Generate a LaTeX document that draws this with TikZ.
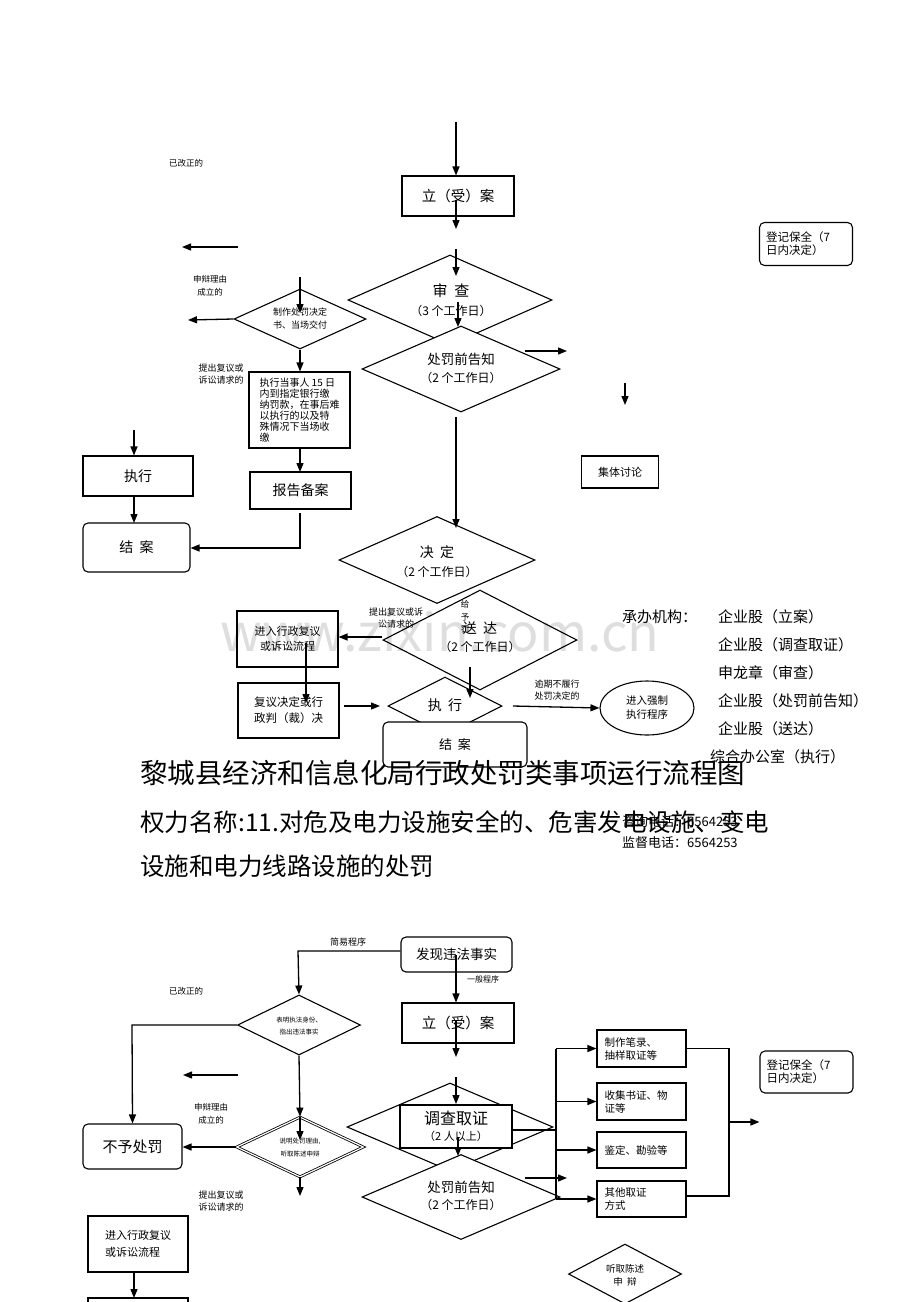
\documentclass[tikz,border=0pt]{standalone}
\usepackage{fontspec}
\setmainfont{Noto Sans CJK SC}
\usetikzlibrary{arrows.meta,shapes.geometric}
\newcommand\fz[2]{\fontsize{#1pt}{#2pt}\selectfont}
\begin{document}
\begin{tikzpicture}[x=1pt,y=-1pt,
  box/.style={draw,line width=1.1pt,fill=white,inner sep=0pt,align=center},
  rbox/.style={box,rounded corners=5pt},
  dia/.style={draw,diamond,line width=1.1pt,fill=white,inner sep=0pt},
  arr/.style={-{Triangle[length=9pt,width=7pt]},line width=1.3pt},
  ln/.style={line width=1.3pt},
  txt/.style={inner sep=0pt,align=center},
  ltxt/.style={inner sep=0pt,align=left,anchor=west}]
\useasboundingbox (0,0) rectangle (920,1302);
\clip (0,0) rectangle (920,1302);
\fill[white] (0,0) rectangle (920,1302);

% ================= TOP SECTION =================
\node[box,minimum width=112,minimum height=40,font=\fz{14.5}{17}] (la) at (458,196) {立（受）案};
\node[dia,minimum width=204,minimum height=90] (sc) at (450,300) {};
\node[dia,minimum width=198,minimum height=86] (cf) at (461,369) {};
\node[txt,font=\fz{15}{18}] (sct) at (451,291) {审\ \ 查};
\node[txt,font=\fz{12}{14}] (scd) at (451,311) {（3 个工作日）};
\node[txt,font=\fz{13.5}{16}] (cft) at (461,359) {处罚前告知};
\node[txt,font=\fz{12}{14}] (cfd) at (461,378) {（2 个工作日）};
\node[box,minimum width=77,minimum height=32,font=\fz{11}{13}] (jt) at (620,472) {集体讨论};
\node[rbox,minimum width=93,minimum height=43,font=\fz{11.5}{13},align=left,text width=80] (dj) at (806,244) {登记保全（7\\日内决定）};

\node[txt,font=\fz{8.5}{10}] (gz1) at (186,163) {已改正的};
\node[txt,font=\fz{8.5}{13}] (sb1) at (210,286) {申辩理由\\成立的};
\node[dia,minimum width=132,minimum height=60] (zz) at (300,319) {};
\node[txt,font=\fz{9}{13}] (zzt) at (300,319) {制作处罚决定\\书、当场交付};
\node[txt,font=\fz{9}{12}] (ty1) at (221,374) {提出复议或\\诉讼请求的};
\node[box,minimum width=101,minimum height=76,font=\fz{10}{11},align=left] (zx15) at (299.5,410) {执行当事人 15 日\\内到指定银行缴\\纳罚款，在事后难\\以执行的以及特\\殊情况下当场收\\缴};
\node[box,minimum width=101,minimum height=37,font=\fz{14}{16}] (bg) at (300.5,490.5) {报告备案};
\node[box,minimum width=110,minimum height=40,font=\fz{14}{16}] (zx1) at (138,476) {执行};
\node[rbox,minimum width=107,minimum height=49,font=\fz{14}{16}] (ja1) at (136.5,547.5) {结\ \ 案};

% ================= MIDDLE =================
\node[dia,minimum width=196,minimum height=87] (jd) at (437,560) {};
\node[dia,minimum width=194,minimum height=100] (sd) at (480,640) {};
\node[txt,font=\fz{14}{16}] (jdt) at (437,552) {决\ \ 定};
\node[txt,font=\fz{12}{14}] (jdd) at (437,572) {（2 个工作日）};
\node[txt,font=\fz{14}{16}] (sdt) at (480,628) {送\ \ 达};
\node[txt,font=\fz{12}{14}] (sdd) at (480,647) {（2 个工作日）};
\node[txt,font=\fz{8.5}{12.5}] (gy) at (465,617) {给\\予\\罚};
\node[txt,font=\fz{9}{12}] (ty2) at (396,618) {提出复议或诉\\讼请求的};
\node[box,minimum width=101,minimum height=56,font=\fz{11}{15}] (fy1) at (287.5,639) {进入行政复议\\或诉讼流程};
\node[box,minimum width=101,minimum height=55,font=\fz{11.5}{16},align=left] (fj) at (288.5,710.5) {复议决定或行\\政判（裁）决};
\node[dia,minimum width=114,minimum height=58] (zx2) at (445,706) {};
\node[txt,font=\fz{14}{16}] (zx2t) at (445,705) {执\ \ 行};
\node[rbox,minimum width=144,minimum height=45,font=\fz{13}{15}] (ja2) at (455,744.5) {结\ \ 案};
\node[draw,ellipse,line width=1.1pt,fill=white,inner sep=0pt,minimum width=94,minimum height=54,align=center,font=\fz{10.5}{14}] (qz) at (647,708) {进入强制\\执行程序};
\node[txt,font=\fz{9}{12}] (yq) at (557,690) {逾期不履行\\处罚决定的};

% right information
\node[ltxt,font=\fz{15}{18}] (cb) at (622,617) {承办机构：};
\node[ltxt,font=\fz{15}{18}] (cb1) at (718,617) {企业股（立案）};
\node[ltxt,font=\fz{15}{18}] (cb2) at (718,645) {企业股（调查取证）};
\node[ltxt,font=\fz{15}{18}] (cb3) at (718,673) {申龙章（审查）};
\node[ltxt,font=\fz{15}{18}] (cb4) at (718,701) {企业股（处罚前告知）};
\node[ltxt,font=\fz{15}{18}] (cb5) at (718,729) {企业股（送达）};
\node[ltxt,font=\fz{15}{18}] (cb6) at (710,757) {综合办公室（执行）};

% titles
\node[ltxt,font=\fz{27.5}{32}] (ti) at (140,773) {黎城县经济和信息化局行政处罚类事项运行流程图};
\node[ltxt,font=\fz{24.5}{28}] (qm1) at (140,822) {权力名称:11.对危及电力设施安全的、危害发电设施、变电};
\node[ltxt,font=\fz{24.5}{28}] (qm2) at (140,866) {设施和电力线路设施的处罚};
\node[ltxt,font=\fz{13}{15}] (tel1) at (622,822) {咨询电话：6564253};
\node[ltxt,font=\fz{13}{15}] (tel2) at (622,843) {监督电话：6564253};

% ================= BOTTOM SECTION =================
\node[rbox,minimum width=111,minimum height=35,font=\fz{13.5}{16}] (fx) at (456.5,954.5) {发现违法事实};
\node[txt,font=\fz{9}{11}] (jy) at (348,942) {简易程序};
\node[txt,font=\fz{8}{10}] (lbl2) at (483,979) {一般程序};
\node[box,minimum width=112,minimum height=40,font=\fz{14.5}{17}] (la2) at (458,1023) {立（受）案};
\node[txt,font=\fz{8.5}{10}] (gz2) at (186,991) {已改正的};
\node[dia,minimum width=123,minimum height=60] (bm) at (299,1025) {};
\node[txt,font=\fz{6.5}{12}] (bmt) at (299,1026) {表明执法身份、\\指出违法事实};
\node[txt,font=\fz{8.5}{13}] (sb2) at (211,1114) {申辩理由\\成立的};
\node[draw,diamond,fill=white,inner sep=0pt,double,double distance=1.2pt,line width=0.8pt,minimum width=127,minimum height=60] (sm) at (300,1147) {};
\node[txt,font=\fz{6.5}{13}] (smt) at (300,1148) {说明处罚理由,\\听取陈述申辩};
\node[txt,font=\fz{9}{12}] (ty3) at (221,1201) {提出复议或\\诉讼请求的};
\node[rbox,minimum width=99,minimum height=45,font=\fz{15}{17}] (bu) at (132.5,1146.5) {不予处罚};
\node[box,minimum width=100,minimum height=56,font=\fz{11}{17},align=left] (fy2) at (138,1244) {进入行政复议\\或诉讼流程};
\node[box,minimum width=100,minimum height=40] (nx) at (138,1318) {};

\node[dia,minimum width=206,minimum height=88] (dc) at (450,1127) {};
\node[box,minimum width=112,minimum height=43] (dq) at (456,1126.5) {};
\node[txt,font=\fz{16}{18}] (dqt) at (456,1118) {调查取证};
\node[txt,font=\fz{11}{13}] (dqd) at (456,1136) {（2 人以上）};
\node[dia,minimum width=198,minimum height=85] (cf2) at (461,1197) {};
\node[txt,font=\fz{13.5}{16}] (cf2t) at (461,1187) {处罚前告知};
\node[txt,font=\fz{12}{14}] (cf2d) at (461,1205) {（2 个工作日）};

\node[box,minimum width=89,minimum height=37,font=\fz{10.5}{13},align=left,text width=74] (b1) at (641.5,1048.5) {制作笔录、\\抽样取证等};
\node[box,minimum width=89,minimum height=37,font=\fz{10.5}{13},align=left,text width=74] (b2) at (641.5,1101.5) {收集书证、物\\证等};
\node[box,minimum width=89,minimum height=36,font=\fz{10.5}{13},align=left,text width=74] (b3) at (641.5,1150) {鉴定、勘验等};
\node[box,minimum width=89,minimum height=36,font=\fz{10.5}{13},align=left,text width=74] (b4) at (641.5,1199) {其他取证\\方式};
\node[rbox,minimum width=93,minimum height=42,font=\fz{11.5}{13},align=left,text width=80] (dj2) at (806.5,1072) {登记保全（7\\日内决定）};
\node[dia,minimum width=113,minimum height=60] (tq) at (625,1274) {};
\node[txt,font=\fz{9.5}{13}] (tqt) at (625,1275) {听取陈述\\申\ \ 辩};

% ================= CONNECTORS: TOP =================
\coordinate (t0) at (456,122);
\draw[arr] (t0) -- (t0 |- la.north);
\coordinate (a1s) at (456,200); \coordinate (a1e) at (456,229);
\draw[arr] (a1s) -- (a1e);
\coordinate (a2s) at (456,249); \coordinate (a2e) at (456,276);
\draw[arr] (a2s) -- (a2e);
\coordinate (a3s) at (458,302); \coordinate (a3e) at (458,327);
\draw[arr] (a3s) -- (a3e);
\coordinate (a4s) at (525,351); \coordinate (a4e) at (567,351);
\draw[arr] (a4s) -- (a4e);
\coordinate (a5s) at (625,383); \coordinate (a5e) at (625,405);
\draw[arr] (a5s) -- (a5e);
\coordinate (a6s) at (456,417); \coordinate (a6e) at (456,528);
\draw[arr] (a6s) -- (a6e);

\coordinate (l1s) at (238,247); \coordinate (l1e) at (182,247);
\draw[arr] (l1s) -- (l1e);
\coordinate (l2s) at (300,277); \coordinate (l2e) at (300,313);
\draw[arr] (l2s) -- (l2e);
\coordinate (l3e) at (188,320);
\draw[arr] (zz.west) -- (l3e);
\draw[arr] (zz.south) -- (zz.south |- zx15.north);
\draw[arr] (300,448) -- (300,472);
\coordinate (l4s) at (300,513); \coordinate (l4c) at (300,548);
\draw[arr] (l4s) -- (l4c) -- (l4c -| ja1.east);
\coordinate (l5s) at (134,430);
\draw[arr] (l5s) -- (l5s |- zx1.north);
\draw[arr] (134,496) -- (134,523);

% ================= CONNECTORS: MIDDLE =================
\coordinate (m1s) at (382,637);
\draw[arr] (m1s) -- (m1s -| fy1.east);
\coordinate (m2s) at (306,643); \coordinate (m2e) at (306,703);
\draw[arr] (m2s) -- (m2e);
\coordinate (m3s) at (344,706); \coordinate (m3e) at (380,706);
\draw[arr] (m3s) -- (m3e);
\coordinate (m4s) at (470,667); \coordinate (m4e) at (470,698);
\draw[arr] (m4s) -- (m4e);
\coordinate (m5s) at (513,706);
\draw[arr] (m5s) -- (qz.west);

% ================= CONNECTORS: BOTTOM =================
\coordinate (c1) at (298,951);
\draw[arr] (fx.west |- c1) -- (c1) -- (bm.north);
\coordinate (c2s) at (456,955);
\draw[arr] (c2s) -- (c2s |- la2.north);
\coordinate (c3s) at (456,1020); \coordinate (c3e) at (456,1057);
\draw[arr] (c3s) -- (c3e);
\coordinate (c4s) at (456,1077); \coordinate (c4e) at (456,1104);
\draw[arr] (c4s) -- (c4e);
\coordinate (c5) at (132,1025);
\draw[arr] (bm.west) -- (c5) -- (bu.north);
\coordinate (c6s) at (238,1075); \coordinate (c6e) at (183,1075);
\draw[arr] (c6s) -- (c6e);
\draw[arr] (bm.south) -- (sm.north);
\coordinate (c7e) at (300,1140);
\draw[arr] (sm.north) -- (c7e);
\draw[arr] (sm.west) -- (sm.west -| bu.east);
\coordinate (c8e) at (300,1196);
\draw[arr] (sm.south) -- (c8e);
\draw[arr] (fy2.south -| 134,0) -- (134,1298);
\coordinate (c9s) at (458,1137); \coordinate (c9e) at (458,1156);
\draw[arr] (c9s) -- (c9e);
\coordinate (c10s) at (525,1178); \coordinate (c10e) at (567,1178);
\draw[arr] (c10s) -- (c10e);
% bus
\coordinate (bt) at (556,1048.5); \coordinate (bb) at (556,1199);
\draw[ln] (dq.east |- 0,1130) -- (556,1130);
\draw[ln] (bt) -- (bb);
\draw[arr] (bt) -- (b1.west);
\draw[arr] (556,1101.5) -- (b2.west);
\draw[arr] (556,1150) -- (b3.west);
\draw[arr] (bb) -- (b4.west);
\coordinate (rt) at (729,1048.5); \coordinate (rb) at (729,1196);
\draw[ln] (b1.east) -- (rt) -- (rb) -- (rb -| b4.east);
\coordinate (rm) at (729,1122);
\draw[arr] (rm) -- (rm -| dj2.west);

% watermark
\node[txt,font=\fz{52}{56},text=black,opacity=0.13] (wm) at (440,632) {www.zixin.com.cn};
\end{tikzpicture}
\end{document}
